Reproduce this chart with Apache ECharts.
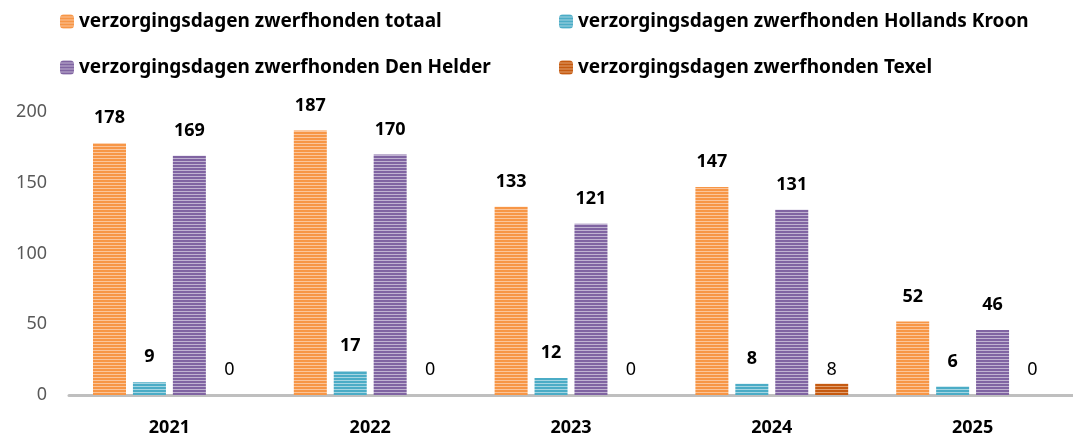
<!DOCTYPE html>
<html>
<head>
<meta charset="utf-8">
<script src="https://cdn.jsdelivr.net/npm/echarts@6/dist/echarts.min.js"></script>
<style>
  html, body { margin: 0; padding: 0; background: #fff; }
  #chart { width: 1073px; height: 442px; }
</style>
</head>
<body>
<div id="chart"></div>
<script>
const years = ['2021', '2022', '2023', '2024', '2025']
const totaal = [178, 187, 133, 147, 52]
const hollandsKroon = [9, 17, 12, 8, 6]
const denHelder = [169, 170, 121, 131, 46]
const texel = [0, 0, 0, 8, 0]
const yTicks = [0, 50, 100, 150, 200]

const names = [
  'verzorgingsdagen zwerfhonden totaal',
  'verzorgingsdagen zwerfhonden Hollands Kroon',
  'verzorgingsdagen zwerfhonden Den Helder',
  'verzorgingsdagen zwerfhonden Texel',
]

// horizontal striped fill, like the office chart texture
function stripes(base, light) {
  const c = document.createElement('canvas')
  c.width = 4
  c.height = 3
  const ctx = c.getContext('2d')
  ctx.fillStyle = base
  ctx.fillRect(0, 0, 4, 3)
  ctx.fillStyle = light
  ctx.fillRect(0, 2, 4, 1)
  return { image: c, repeat: 'repeat' }
}

const font = 'Noto Sans'
const chart = echarts.init(document.getElementById('chart'))

const mkSeries = (name, data, base, light, label) => ({
  name,
  type: 'bar',
  data,
  barWidth: 33,
  barGap: '21%',
  itemStyle: { color: stripes(base, light) },
  label: Object.assign({
    show: true,
    fontFamily: font,
    fontSize: 18,
    color: '#000',
  }, label),
})

const legendPos = [
  [55, 7], [554, 7], [55, 53], [554, 53],
]

chart.setOption({
  animation: false,
  legend: legendPos.map((p, i) => ({
    data: [names[i]],
    left: p[0],
    top: p[1],
    itemWidth: 14,
    itemHeight: 14,
    itemGap: 6,
    textStyle: { fontFamily: font, fontSize: 19, fontWeight: 'bold', color: '#000' },
  })),
  grid: { left: 69, right: 0, top: 112, bottom: 47 },
  xAxis: {
    type: 'category',
    data: years,
    axisLine: { lineStyle: { color: '#bfbfbf', width: 3 } },
    axisTick: { show: false },
    axisLabel: { fontFamily: font, fontSize: 18, fontWeight: 'bold', color: '#000', margin: 24 },
  },
  yAxis: {
    type: 'value',
    min: yTicks[0],
    max: yTicks[yTicks.length - 1],
    interval: 50,
    splitLine: { show: false },
    axisLine: { show: false },
    axisLabel: { fontFamily: font, fontSize: 18, color: '#595959', margin: 22 },
  },
  series: [
    mkSeries(names[0], totaal, '#f79646', '#fbc59a', { position: 'top', distance: 16, fontWeight: 'bold' }),
    mkSeries(names[1], hollandsKroon, '#4bacc6', '#a5d5e2', { position: 'top', distance: 16, fontWeight: 'bold' }),
    mkSeries(names[2], denHelder, '#8064a2', '#c0b2d1', { position: 'top', distance: 16, fontWeight: 'bold' }),
    mkSeries(names[3], texel, '#c55a11', '#e2a070', { position: 'insideBottom', distance: 0, offset: [0, -16] }),
  ],
})
</script>
</body>
</html>
